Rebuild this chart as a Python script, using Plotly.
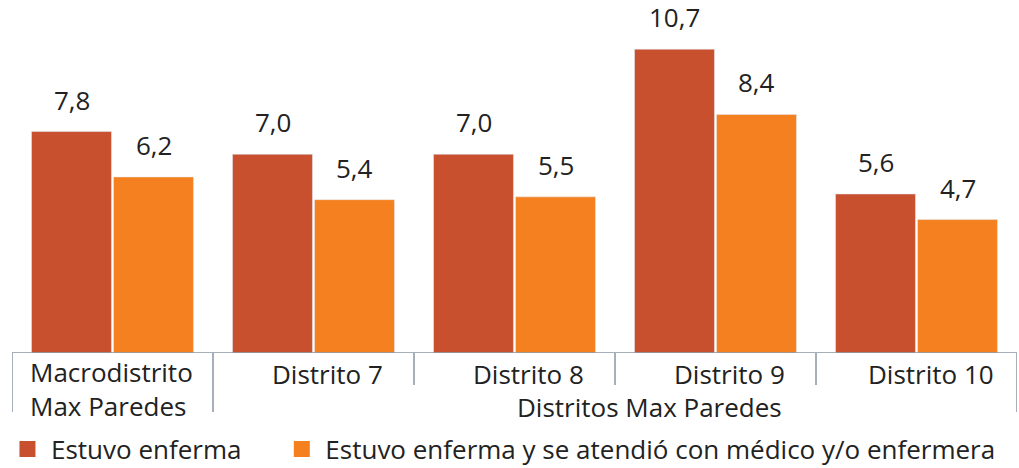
import plotly.graph_objects as go

categories = ["Macrodistrito<br>Max Paredes", "Distrito 7", "Distrito 8", "Distrito 9", "Distrito 10"]
series_names = ["Estuvo enferma", "Estuvo enferma y se atendió con médico y/o enfermera"]
enferma = [7.8, 7.0, 7.0, 10.7, 5.6]
atendida = [6.2, 5.4, 5.5, 8.4, 4.7]
group_label = "Distritos Max Paredes"

RED = "#C9502F"
ORANGE = "#F5801F"
TXT = "#222222"
LINE = "#8a96a3"
FONT = "Open Sans"

BARGAP = 0.184
GROUPGAP = 0.025
xpos = list(range(len(categories)))
slot = (1 - BARGAP) / 2

fig = go.Figure()
series = [(series_names[0], enferma, RED, -slot / 2, "legend"),
          (series_names[1], atendida, ORANGE, slot / 2, "legend2")]
annotations = []
for name, vals, col, off, leg in series:
    fig.add_trace(go.Bar(x=xpos, y=vals, name=name, marker_color=col, showlegend=False,
                         hoverinfo="skip"))
    fig.add_trace(go.Scatter(
        x=[None], y=[None], mode="markers", name=name, legend=leg,
        marker=dict(symbol="square", size=19, color=col),
    ))
    for xi, v in zip(xpos, vals):
        annotations.append(dict(
            x=xi + off, y=v, xref="x", yref="y", yanchor="bottom", yshift=12,
            text=f"{v:.1f}".replace(".", ","), showarrow=False,
            font=dict(size=26, color=TXT, family=FONT)))

shapes = [dict(type="line", xref="x", yref="y", x0=-0.5, x1=4.5, y0=0, y1=0,
               line=dict(color=LINE, width=1.5))]
for xb, yb in [(-0.5, -0.172), (0.5, -0.172), (1.5, -0.093), (2.5, -0.093), (3.5, -0.093), (4.5, -0.172)]:
    shapes.append(dict(type="line", xref="x", yref="paper", x0=xb, x1=xb, y0=0, y1=yb,
                       line=dict(color=LINE, width=1.5)))

annotations.append(dict(x=-0.5, y=0, xref="x", yref="paper", xanchor="left", yanchor="top",
                        xshift=16, yshift=1, text=categories[0], showarrow=False, align="left",
                        font=dict(size=26, color=TXT, family=FONT)))
for i in range(1, 5):
    annotations.append(dict(x=i, y=0, xref="x", yref="paper", yanchor="top", yshift=-1, xshift=14,
                            text=categories[i], showarrow=False,
                            font=dict(size=26, color=TXT, family=FONT)))
annotations.append(dict(x=2.674, y=-0.1, xref="x", yref="paper", yanchor="top",
                        text=group_label, showarrow=False,
                        font=dict(size=26, color=TXT, family=FONT)))

legend_common = dict(orientation="h", xanchor="left", yanchor="middle", y=-0.28,
                     font=dict(size=26, color=TXT, family=FONT), bgcolor="rgba(0,0,0,0)",
                     itemwidth=37)

fig.update_layout(
    width=1019, height=468,
    margin=dict(l=12, r=2, t=10, b=115, autoexpand=False),
    plot_bgcolor="white", paper_bgcolor="white",
    barmode="group", bargap=BARGAP, bargroupgap=GROUPGAP,
    xaxis=dict(range=[-0.5, 4.5], showticklabels=False, showgrid=False, zeroline=False, showline=False, ticks=""),
    yaxis=dict(range=[0, 12.08], visible=False),
    shapes=shapes, annotations=annotations,
    legend=dict(x=-0.008, **legend_common),
    legend2=dict(x=0.265, **legend_common),
    font=dict(family=FONT, color=TXT),
)

fig.write_html("out.html", config={"displayModeBar": False},
               post_script="document.body.style.margin='0';")
